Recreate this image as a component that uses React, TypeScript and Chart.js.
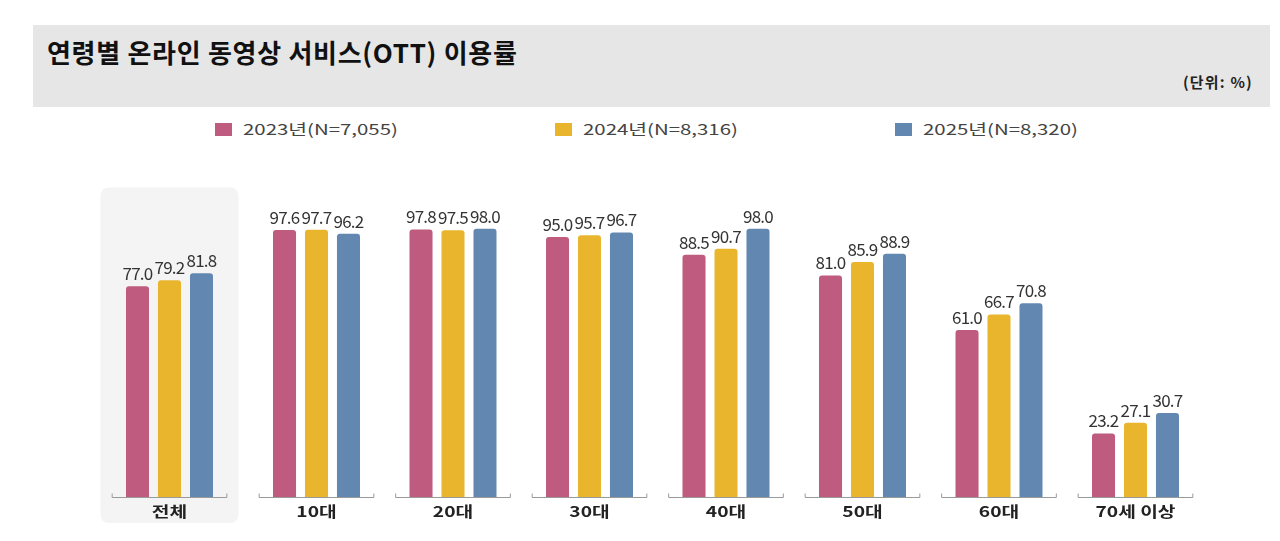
import { useEffect, useRef } from 'react'
import { Chart, registerables } from 'chart.js'

Chart.register(...registerables)

const categories = ['전체', '10대', '20대', '30대', '40대', '50대', '60대', '70세 이상']
const seriesNames = ['2023년(N=7,055)', '2024년(N=8,316)', '2025년(N=8,320)']
const values2023 = [77.0, 97.6, 97.8, 95.0, 88.5, 81.0, 61.0, 23.2]
const values2024 = [79.2, 97.7, 97.5, 95.7, 90.7, 85.9, 66.7, 27.1]
const values2025 = [81.8, 96.2, 98.0, 96.7, 98.0, 88.9, 70.8, 30.7]
const colors = ['#bf5b7e', '#e8b52c', '#6288b2']

const FONT = '"Noto Sans CJK KR", "Noto Sans", sans-serif'
// the "전체" group sits a little apart from the age groups
const TOTAL_SHIFT = -10.5

function groupCenter(chart: Chart, i: number) {
  return chart.scales.x.getPixelForValue(i) + (i === 0 ? TOTAL_SHIFT : 0)
}

const decorPlugin = {
  id: 'decor',
  afterDatasetsUpdate(chart: Chart) {
    chart.data.datasets.forEach((_, di) => {
      const bar: any = chart.getDatasetMeta(di).data[0]
      if (bar) bar.x += TOTAL_SHIFT
    })
  },
  beforeDatasetsDraw(chart: Chart) {
    const { ctx, chartArea, scales } = chart
    const x = scales.x
    const w = x.getPixelForValue(1) - x.getPixelForValue(0)
    const cx = groupCenter(chart, 0)
    ctx.save()
    ctx.fillStyle = '#f4f4f4'
    ctx.beginPath()
    ctx.roundRect(cx - 69, chartArea.top - 36, 138, chartArea.bottom - chartArea.top + 62, 8)
    ctx.fill()

    ctx.strokeStyle = '#9a9a9a'
    ctx.lineWidth = 1
    categories.forEach((_, i) => {
      const c = groupCenter(chart, i)
      const y = Math.round(chartArea.bottom) + 0.5
      ctx.beginPath()
      ctx.moveTo(c - w * 0.42, y - 4)
      ctx.lineTo(c - w * 0.42, y)
      ctx.lineTo(c + w * 0.42, y)
      ctx.lineTo(c + w * 0.42, y - 4)
      ctx.stroke()
    })
    ctx.restore()
  },
  afterDatasetsDraw(chart: Chart) {
    const { ctx, chartArea } = chart
    ctx.save()
    ctx.textAlign = 'center'
    ctx.textBaseline = 'bottom'
    ctx.fillStyle = '#333'
    ctx.font = `17px ${FONT}`
    ;(ctx as any).letterSpacing = '-0.8px'
    chart.data.datasets.forEach((ds, di) => {
      const meta = chart.getDatasetMeta(di)
      meta.data.forEach((bar: any, i: number) => {
        ctx.fillText((ds.data[i] as number).toFixed(1), bar.x, bar.y - 4)
      })
    })
    ;(ctx as any).letterSpacing = '0px'
    ctx.fillStyle = '#222'
    ctx.font = `bold 15px ${FONT}`
    ctx.textBaseline = 'middle'
    categories.forEach((c, i) => {
      ctx.save()
      ctx.translate(groupCenter(chart, i), chartArea.bottom + 14)
      ctx.scale(1.28, 1)
      ctx.fillText(c, 0, 0)
      ctx.restore()
    })
    ctx.restore()
  },
}

function BarChart() {
  const canvasRef = useRef<HTMLCanvasElement>(null)
  const chartRef = useRef<Chart | null>(null)

  useEffect(() => {
    if (!canvasRef.current) return
    if (chartRef.current) chartRef.current.destroy()
    const all = [values2023, values2024, values2025]
    chartRef.current = new Chart(canvasRef.current, {
      type: 'bar',
      data: {
        labels: categories,
        datasets: all.map((data, i) => ({
          label: seriesNames[i],
          data,
          backgroundColor: colors[i],
          borderRadius: { topLeft: 3, topRight: 3, bottomLeft: 0, bottomRight: 0 },
          borderSkipped: false,
          categoryPercentage: 0.703,
          barPercentage: 0.72,
        })),
      },
      options: {
        responsive: false,
        animation: false,
        layout: { padding: { left: 111.75, right: 76.25, top: 73.4, bottom: 44 } },
        plugins: { legend: { display: false }, tooltip: { enabled: false } },
        scales: {
          x: { display: false },
          y: { display: false, min: 0, max: 100 },
        },
      },
      plugins: [decorPlugin],
    })
    return () => { chartRef.current?.destroy() }
  }, [])

  return (
    <canvas
      ref={canvasRef}
      width={1280}
      height={391}
      style={{ position: 'absolute', left: 0, top: 150, width: 1280, height: 391 }}
    />
  )
}

export default function App() {
  useEffect(() => {
    document.body.style.margin = '0'
  }, [])

  const legendX = [215, 555, 895]

  return (
    <div style={{ position: 'relative', width: 1280, height: 541, background: '#fff', fontFamily: FONT, overflow: 'hidden' }}>
      <div style={{ position: 'absolute', left: 33, top: 25, width: 1237, height: 82, background: '#e6e6e6' }} />
      <div style={{ position: 'absolute', left: 47, top: 34, fontSize: 26, fontWeight: 700, color: '#111', letterSpacing: 0.7, lineHeight: '36px', whiteSpace: 'nowrap' }}>
        연령별 온라인 동영상 서비스(OTT) 이용률
      </div>
      <div style={{ position: 'absolute', right: 27, top: 71, fontSize: 15, fontWeight: 700, color: '#222', letterSpacing: 1.2, lineHeight: '22px' }}>
        (단위: %)
      </div>
      {seriesNames.map((name, i) => (
        <div key={name} style={{ position: 'absolute', left: legendX[i], top: 118, height: 22, width: 260 }}>
          <span style={{ position: 'absolute', left: 0, top: 5, width: 17, height: 13, background: colors[i] }} />
          <span style={{ position: 'absolute', left: 28, top: 0, fontSize: 15, lineHeight: '22px', color: '#444', whiteSpace: 'nowrap', transform: 'scaleX(1.36)', transformOrigin: 'left center' }}>
            {name}
          </span>
        </div>
      ))}
      <BarChart />
    </div>
  )
}
